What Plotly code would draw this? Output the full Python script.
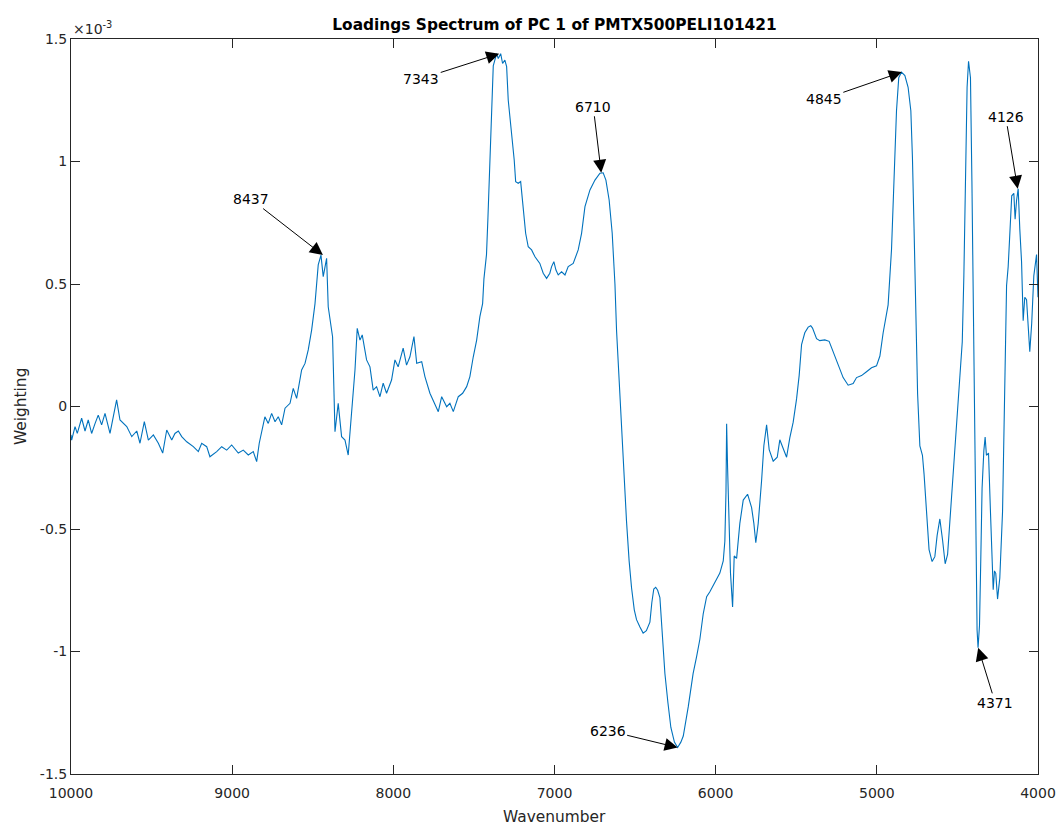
import numpy as np
import plotly.graph_objects as go

# Wavenumber (cm^-1) and PC1 loading weights (units of 1e-3)
wavenumber = [
    10000, 9996, 9975, 9961, 9934, 9913, 9893, 9872, 9851, 9831, 9810, 9789, 9758, 9738, 9717, 9696,
    9654, 9623, 9592, 9572, 9545, 9520, 9489, 9458, 9431, 9406, 9375, 9355, 9334, 9313, 9282, 9241,
    9210, 9189, 9158, 9138, 9096, 9065, 9034, 9003, 8962, 8931, 8900, 8869, 8848, 8832, 8797, 8776,
    8755, 8734, 8714, 8693, 8672, 8641, 8621, 8600, 8569, 8548, 8528, 8507, 8486, 8466, 8449, 8435,
    8414, 8404, 8377, 8362, 8342, 8321, 8300, 8280, 8259, 8238, 8224, 8207, 8193, 8166, 8145, 8125,
    8104, 8083, 8063, 8042, 8011, 7990, 7970, 7939, 7918, 7897, 7872, 7855, 7824, 7804, 7773, 7742,
    7721, 7700, 7669, 7649, 7628, 7597, 7570, 7545, 7525, 7504, 7483, 7463, 7446, 7438, 7422, 7413,
    7401, 7390, 7380, 7359, 7349, 7334, 7322, 7308, 7297, 7287, 7266, 7250, 7241, 7225, 7210, 7194,
    7179, 7163, 7142, 7121, 7091, 7070, 7049, 7029, 7018, 7004, 6991, 6977, 6956, 6935, 6915, 6884,
    6853, 6832, 6811, 6780, 6749, 6718, 6698, 6681, 6661, 6642, 6625, 6615, 6594, 6574, 6553, 6537,
    6522, 6505, 6491, 6470, 6450, 6430, 6408, 6396, 6384, 6372, 6360, 6346, 6327, 6315, 6296, 6278,
    6256, 6236, 6216, 6201, 6170, 6140, 6118, 6098, 6077, 6056, 6036, 6005, 5974, 5953, 5943, 5936,
    5932, 5926, 5917, 5908, 5895, 5885, 5870, 5850, 5829, 5802, 5777, 5763, 5751, 5736, 5715, 5701,
    5684, 5668, 5643, 5618, 5602, 5581, 5560, 5540, 5519, 5498, 5482, 5467, 5447, 5426, 5410, 5399,
    5374, 5354, 5323, 5296, 5271, 5240, 5209, 5178, 5147, 5126, 5095, 5064, 5033, 5002, 4981, 4961,
    4930, 4909, 4895, 4878, 4864, 4847, 4826, 4806, 4789, 4779, 4769, 4758, 4747, 4733, 4717, 4707,
    4692, 4676, 4657, 4640, 4626, 4609, 4592, 4576, 4561, 4543, 4522, 4502, 4485, 4470, 4460, 4448,
    4440, 4431, 4419, 4410, 4401, 4393, 4386, 4378, 4372, 4363, 4355, 4347, 4336, 4328, 4320, 4307,
    4295, 4285, 4278, 4270, 4262, 4251, 4237, 4220, 4208, 4195, 4185, 4175, 4163, 4150, 4142, 4133,
    4123, 4113, 4102, 4092, 4082, 4071, 4061, 4051, 4039, 4026, 4009, 4000,
]

weighting_e3 = [
    -0.116, -0.137, -0.082, -0.110, -0.048, -0.100, -0.055, -0.110, -0.070, -0.035, -0.075, -0.028, -0.110, -0.042, 0.027, -0.055,
    -0.082, -0.123, -0.100, -0.150, -0.062, -0.137, -0.116, -0.150, -0.190, -0.096, -0.137, -0.110, -0.100, -0.123, -0.144, -0.164,
    -0.184, -0.150, -0.164, -0.205, -0.184, -0.164, -0.178, -0.157, -0.190, -0.178, -0.198, -0.184, -0.225, -0.150, -0.042, -0.069,
    -0.028, -0.062, -0.042, -0.075, -0.007, 0.013, 0.074, 0.033, 0.149, 0.176, 0.231, 0.312, 0.420, 0.578, 0.618, 0.530,
    0.605, 0.407, 0.285, -0.103, 0.013, -0.123, -0.137, -0.198, -0.028, 0.149, 0.319, 0.271, 0.292, 0.190, 0.162, 0.067,
    0.081, 0.040, 0.095, 0.054, 0.108, 0.190, 0.162, 0.238, 0.169, 0.203, 0.285, 0.176, 0.183, 0.122, 0.054, 0.013,
    -0.021, 0.040, -0.001, 0.013, -0.021, 0.040, 0.054, 0.081, 0.122, 0.203, 0.271, 0.367, 0.420, 0.520, 0.620, 0.770,
    0.980, 1.180, 1.390, 1.440, 1.420, 1.440, 1.400, 1.414, 1.387, 1.250, 1.115, 1.006, 0.918, 0.911, 0.918, 0.816,
    0.707, 0.652, 0.639, 0.611, 0.584, 0.544, 0.523, 0.544, 0.571, 0.591, 0.557, 0.537, 0.550, 0.537, 0.571, 0.584,
    0.639, 0.707, 0.816, 0.884, 0.924, 0.952, 0.954, 0.924, 0.843, 0.707, 0.500, 0.310, 0.040, -0.230, -0.470, -0.630,
    -0.740, -0.830, -0.870, -0.900, -0.925, -0.915, -0.880, -0.800, -0.745, -0.738, -0.750, -0.780, -0.970, -1.090, -1.210, -1.310,
    -1.370, -1.392, -1.370, -1.345, -1.225, -1.090, -1.020, -0.950, -0.845, -0.776, -0.756, -0.715, -0.680, -0.630, -0.550, -0.350,
    -0.070, -0.250, -0.500, -0.680, -0.818, -0.610, -0.620, -0.477, -0.382, -0.358, -0.413, -0.477, -0.556, -0.477, -0.302, -0.160,
    -0.075, -0.176, -0.223, -0.207, -0.136, -0.176, -0.207, -0.128, -0.064, 0.031, 0.126, 0.253, 0.301, 0.324, 0.330, 0.320,
    0.277, 0.269, 0.272, 0.266, 0.221, 0.174, 0.118, 0.087, 0.094, 0.118, 0.126, 0.142, 0.158, 0.166, 0.206, 0.300,
    0.415, 0.640, 0.918, 1.207, 1.342, 1.365, 1.351, 1.303, 1.207, 1.014, 0.725, 0.340, 0.051, -0.161, -0.199, -0.276,
    -0.430, -0.584, -0.633, -0.613, -0.527, -0.459, -0.546, -0.642, -0.604, -0.430, -0.199, -0.045, 0.148, 0.263, 0.533, 1.014,
    1.303, 1.409, 1.342, 0.918, 0.340, -0.238, -0.623, -0.912, -0.985, -0.893, -0.623, -0.334, -0.180, -0.125, -0.199, -0.190,
    -0.430, -0.623, -0.748, -0.671, -0.681, -0.786, -0.700, -0.430, -0.045, 0.494, 0.571, 0.725, 0.860, 0.870, 0.764, 0.841,
    0.889, 0.725, 0.591, 0.350, 0.446, 0.436, 0.302, 0.224, 0.340, 0.533, 0.620, 0.446,
]

# Labelled bands: wavenumber, peak (+1) or trough (-1)
label_wavenumbers = [8437, 7343, 6710, 6236, 4845, 4371, 4126]
label_kinds = [1, 1, 1, -1, 1, -1, 1]

x_ticks = [10000, 9000, 8000, 7000, 6000, 5000, 4000]
y_ticks = [-1.5, -1, -0.5, 0, 0.5, 1, 1.5]
y_ticktext = ["-1.5", "-1", "-0.5", "0", "0.5", "1", "1.5"]

# text offsets (pixels) of each label from its arrow tip
label_offsets = {8437: (-72, -56), 7343: (-78, 25), 6710: (-8, -66), 6236: (-70, -17),
                 4845: (-78, 27), 4371: (17, 55), 4126: (-12, -72)}

FONT = "DejaVu Sans"
INK = "#262626"

fig = go.Figure()
fig.add_trace(go.Scatter(x=wavenumber, y=weighting_e3, mode="lines",
                         line=dict(color="#0072BD", width=1.1), hoverinfo="skip"))

wn = np.array(wavenumber, dtype=float)
wt = np.array(weighting_e3, dtype=float)
for lab, kind in zip(label_wavenumbers, label_kinds):
    m = np.abs(wn - lab) <= 20
    tip_y = wt[m].max() if kind > 0 else wt[m].min()
    ax, ay = label_offsets[lab]
    fig.add_annotation(x=lab, y=tip_y, xref="x", yref="y", text=str(lab),
                       showarrow=True, arrowhead=2, arrowsize=2.6, arrowwidth=1,
                       arrowcolor="black", ax=ax, ay=ay, standoff=0,
                       font=dict(family=FONT, size=14, color="black"))

axis_common = dict(showline=True, linecolor=INK, linewidth=1, mirror="ticks",
                   ticks="inside", ticklen=9, tickwidth=1, tickcolor=INK,
                   showgrid=False, zeroline=False, automargin=False,
                   tickfont=dict(family=FONT, size=14, color=INK))

fig.update_xaxes(range=[10000, 4000], tickvals=x_ticks,
                 ticktext=[str(v) for v in x_ticks], ticklabelstandoff=6, **axis_common)
fig.update_yaxes(range=[-1.5, 1.5], tickvals=y_ticks, ticktext=y_ticktext, **axis_common)

fig.add_annotation(text="Wavenumber", xref="paper", yref="paper", x=0.5, y=-0.0585,
                   xanchor="center", yanchor="middle", showarrow=False,
                   font=dict(family=FONT, size=15.4, color=INK))
fig.add_annotation(text="Weighting", xref="paper", yref="paper", x=-0.0522, y=0.5,
                   xanchor="center", yanchor="middle", textangle=-90, showarrow=False,
                   font=dict(family=FONT, size=15.4, color=INK))
fig.add_annotation(text="×10<sup>-3</sup>", xref="paper", yref="paper", x=0.0, y=1.0,
                   xanchor="left", yanchor="bottom", showarrow=False,
                   font=dict(family=FONT, size=14, color=INK))

fig.update_layout(
    width=1057, height=825,
    margin=dict(l=71, r=19, t=39, b=51),
    plot_bgcolor="white", paper_bgcolor="white",
    showlegend=False,
    title=dict(text="<b>Loadings Spectrum of PC 1 of PMTX500PELI101421</b>",
               x=0.5, xref="paper", xanchor="center",
               y=1 - 25 / 825, yref="container", yanchor="middle",
               font=dict(family=FONT, size=15.4, color="black")),
)

fig.write_html("out.html")
